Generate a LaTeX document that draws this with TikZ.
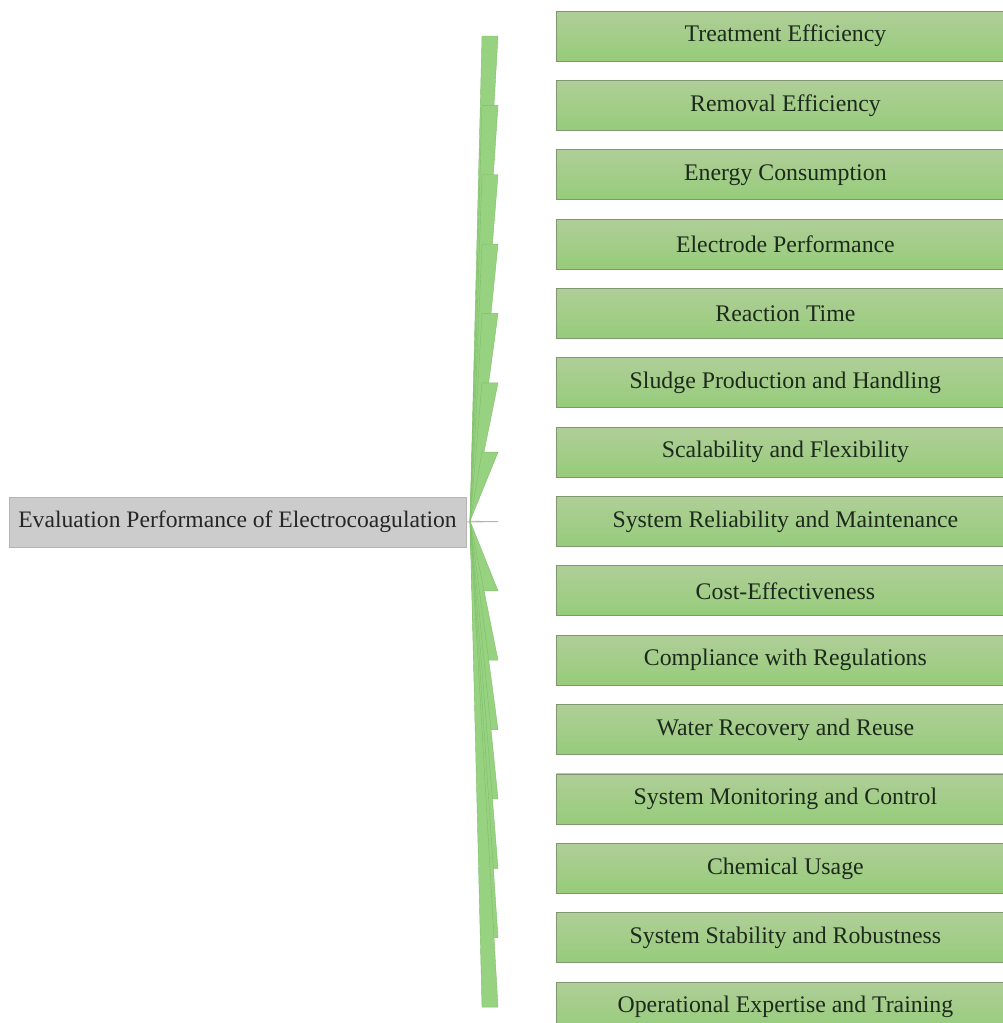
\documentclass[tikz,border=0pt]{standalone}
\usepackage{fontspec}
\setmainfont{Liberation Serif}
\usetikzlibrary{calc}
\definecolor{boxtop}{RGB}{176,206,152}
\definecolor{boxbot}{RGB}{150,204,122}
\definecolor{boxline}{RGB}{128,150,112}
\definecolor{wedgefill}{RGB}{150,210,128}
\definecolor{wedgeline}{RGB}{128,190,108}
\definecolor{rootfill}{RGB}{204,204,204}
\definecolor{rootline}{RGB}{180,180,180}
\definecolor{txt}{RGB}{28,42,28}
\tikzset{
  childbox/.style={rectangle, draw=boxline, line width=0.8pt, top color=boxtop, bottom color=boxbot,
    minimum width=458pt, minimum height=50pt, inner sep=0pt, text=txt, font=\fontsize{23.8}{28}\selectfont},
  rootbox/.style={rectangle, draw=rootline, line width=0.6pt, fill=rootfill,
    minimum width=457pt, minimum height=50pt, inner sep=0pt, text=black!85, font=\fontsize{23.6}{28}\selectfont},
  wedge/.style={fill=wedgefill, draw=wedgeline, line width=0.4pt},
}
\begin{document}
\begin{tikzpicture}[x=1pt,y=1pt]
\useasboundingbox (0,0) rectangle (1003,-1023);
\node[rootbox] (root) at (237.5,-522) {Evaluation Performance of Electrocoagulation};
\coordinate (hub) at (470,-521);
\foreach \t [count=\i from 0] in {Treatment Efficiency,Removal Efficiency,Energy Consumption,Electrode Performance,Reaction Time,Sludge Production and Handling,Scalability and Flexibility,System Reliability and Maintenance,Cost-Effectiveness,Compliance with Regulations,Water Recovery and Reuse,System Monitoring and Control,Chemical Usage,System Stability and Robustness,Operational Expertise and Training}{
  \pgfmathsetmacro{\yy}{-36-69.36*\i}
  \node[childbox, anchor=west] (c\i) at (556,\yy) {\t};
  \coordinate (e\i) at ($(c\i.west)+(-58,0)$);
  \coordinate (f\i) at ($(c\i.west)+(-74,0)$);
  \fill[wedge] (hub) -- (f\i) -- (e\i) -- cycle;
}
\draw[rootline, line width=1pt] (root.east) -- (e7);
\end{tikzpicture}
\end{document}
